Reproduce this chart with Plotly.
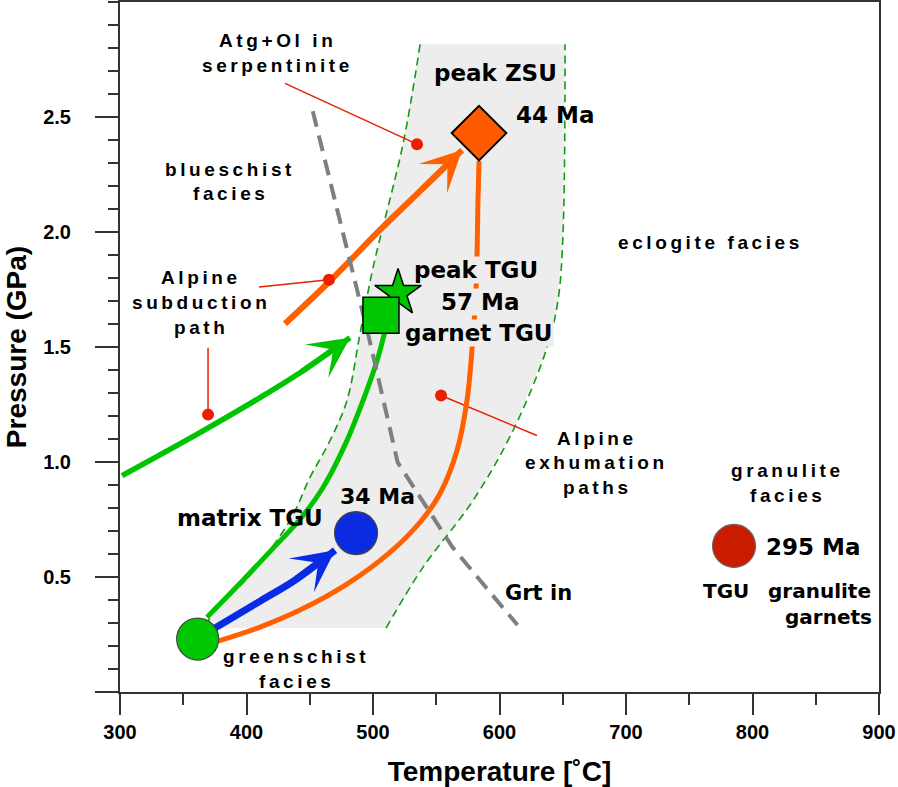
import plotly.graph_objects as go

# ---------------- data ----------------
x_tick_vals = [300, 400, 500, 600, 700, 800, 900]
x_tick_text = ["300", "400", "500", "600", "700", "800", "900"]
y_tick_vals = [0.0, 0.5, 1.0, 1.5, 2.0, 2.5]
y_tick_text = ["", "0.5", "1.0", "1.5", "2.0", "2.5"]

# grey P-T band (left boundary top->bottom, right boundary bottom->top)
band_left_T = [537.2, 523.7, 500.0, 489.7, 479.4, 466.0, 450.2, 434.4, 402.8, 373.5, 367.2]
band_left_P = [2.816, 2.382, 1.844, 1.557, 1.267, 1.093, 0.933, 0.746, 0.508, 0.343, 0.278]
band_right_T = [510.3, 539.5, 579.1, 610.7, 637.5, 646.2, 650.2, 651.8]
band_right_P = [0.278, 0.542, 0.833, 1.137, 1.497, 1.701, 1.991, 2.816]

# Grt-in reaction line
grt_T = [452.4, 497.4, 519.5, 562.9, 614.2]
grt_P = [2.525, 1.527, 0.998, 0.629, 0.291]

# orange exhumation path (greenschist -> peak ZSU)
exh_T = [377.5, 410.7, 442.3, 479.4, 513.4, 537.2, 553.0, 566.4, 574.3, 578.3, 581.4, 583.0, 583.8]
exh_P = [0.221, 0.282, 0.356, 0.469, 0.607, 0.738, 0.863, 1.050, 1.267, 1.492, 1.744, 2.134, 2.308]

# green TGU exhumation path
tgu_T = [368.8, 397.2, 420.2, 442.3, 460.5, 479.4, 492.1, 503.2, 509.5]
tgu_P = [0.325, 0.486, 0.620, 0.751, 0.889, 1.093, 1.267, 1.440, 1.571]

# blue arrow (greenschist -> matrix TGU)
blue_T = [375.1, 410.7, 438.3, 470.0]
blue_P = [0.278, 0.395, 0.486, 0.616]

# green subduction arrow
gsub_T = [301.6, 363.2, 410.7, 442.3, 481.8]
gsub_P = [0.941, 1.128, 1.280, 1.388, 1.540]

# orange subduction arrow
osub_T = [430.4, 466.0, 505.5, 537.2, 570.4]
osub_P = [1.601, 1.787, 2.009, 2.178, 2.356]

# point data
green_circle = (361.4, 0.230)
blue_circle = (486.6, 0.691)
red_circle = (785.4, 0.635)
zsu_diamond = (583.8, 2.430)
tgu_square = (506.3, 1.638)
tgu_star = (519.8, 1.735)

# red pointer lines (start -> dot)
ptr_T = [[430.4, 534.8], [409.9, 465.2], [369.6, 369.6], [629.6, 553.8]]
ptr_P = [[2.646, 2.382], [1.761, 1.792], [1.497, 1.206], [1.115, 1.289]]

# labels
spaced_labels = ["Atg+Ol in", "serpentinite", "blueschist", "facies",
                 "Alpine", "subduction", "path",
                 "Alpine", "exhumation", "paths",
                 "eclogite facies", "granulite", "facies",
                 "greenschist", "facies"]
bold_labels = ["peak ZSU", "44 Ma", "matrix TGU", "34 Ma", "Grt in", "295 Ma",
               "TGU", "granulite", "garnets"]
box_labels = ["peak TGU", "57 Ma", "garnet TGU"]

# ---------------- helpers ----------------
PX_T = 759 / 600.0
PX_P = 690 / 3.0


def T(px):
    return 300 + (px - 120) / PX_T


def P(py):
    return (692 - py) / PX_P


ORANGE = "#FF6000"
GREEN = "#00C400"
BLUE = "#0A2BE6"
RED = "#E82000"

fig = go.Figure()

# band fill
fig.add_trace(go.Scatter(x=band_left_T + band_right_T, y=band_left_P + band_right_P,
                         mode="lines", fill="toself", fillcolor="#EDEDED",
                         line=dict(width=0), hoverinfo="skip"))
for bx, by in [(band_left_T, band_left_P), (band_right_T, band_right_P)]:
    fig.add_trace(go.Scatter(x=bx, y=by, mode="lines",
                             line=dict(color="#139A13", width=1.6, dash="8px,5px", shape="spline"),
                             hoverinfo="skip"))

# pointer lines
for tx, ty in zip(ptr_T, ptr_P):
    fig.add_trace(go.Scatter(x=tx, y=ty, mode="lines", line=dict(color=RED, width=1.5),
                             hoverinfo="skip"))

# paths
fig.add_trace(go.Scatter(x=exh_T, y=exh_P, mode="lines",
                         line=dict(color=ORANGE, width=5, shape="spline"), hoverinfo="skip"))
fig.add_trace(go.Scatter(x=tgu_T, y=tgu_P, mode="lines",
                         line=dict(color=GREEN, width=5, shape="spline"), hoverinfo="skip"))
fig.add_trace(go.Scatter(x=blue_T, y=blue_P, mode="lines",
                         line=dict(color=BLUE, width=7, shape="spline"), hoverinfo="skip"))
fig.add_trace(go.Scatter(x=gsub_T, y=gsub_P, mode="lines",
                         line=dict(color=GREEN, width=5.5, shape="spline"), hoverinfo="skip"))
fig.add_trace(go.Scatter(x=osub_T, y=osub_P, mode="lines",
                         line=dict(color=ORANGE, width=6, shape="spline"), hoverinfo="skip"))

# Grt in
fig.add_trace(go.Scatter(x=grt_T, y=grt_P, mode="lines",
                         line=dict(color="#7F7F7F", width=4, dash="16px,9px"), hoverinfo="skip"))

# pointer dots
fig.add_trace(go.Scatter(x=[t[1] for t in ptr_T], y=[p[1] for p in ptr_P], mode="markers",
                         marker=dict(color=RED, size=12, line=dict(width=0)), hoverinfo="skip"))

# symbols
def sym(pt, symbol, size, color, lw=1, lc="#333333"):
    fig.add_trace(go.Scatter(x=[pt[0]], y=[pt[1]], mode="markers",
                             marker=dict(symbol=symbol, size=size, color=color,
                                         line=dict(color=lc, width=lw)),
                             hoverinfo="skip"))


sym(tgu_star, "star", 35, "#00C400", 1.5, "#000000")
sym(tgu_square, "square", 36, "#00C800", 1.5, "#000000")
sym(zsu_diamond, "diamond", 42, "#FF5A00", 2, "#000000")
sym(green_circle, "circle", 42, "#00C800", 1.2, "#444444")
sym(blue_circle, "circle", 43, "#0A2BE0", 1.2, "#444444")
sym(red_circle, "circle", 43, "#CC1C00", 1.2, "#666666")

# arrow heads
for xs, ys, col, w, sc in [(gsub_T, gsub_P, GREEN, 5.5, 6.8),
                           (osub_T, osub_P, ORANGE, 6, 6.8),
                           (blue_T, blue_P, BLUE, 7, 7.0)]:
    fig.add_annotation(x=xs[-1], y=ys[-1], ax=xs[-2], ay=ys[-2], xref="x", yref="y",
                       axref="x", ayref="y", text="", showarrow=True, arrowhead=3,
                       arrowwidth=w, arrowsize=sc / w, arrowcolor=col, standoff=0)

# spaced small labels
spaced_pos = [(277, 40), (277, 65), (230, 169), (230, 193),
              (201, 277), (201, 302), (201, 327),
              (597, 438), (596, 462), (597, 487),
              (710, 242), (787, 470), (787, 495),
              (296, 656), (296, 681)]
for txt, (px, py) in zip(spaced_labels, spaced_pos):
    fig.add_annotation(x=T(px), y=P(py), xref="x", yref="y", showarrow=False,
                       text='<b><span style="letter-spacing:3.6px">%s</span></b>' % txt,
                       font=dict(family="Liberation Sans, Arial", size=19, color="#000000",
                                 weight="bold"))

bold_pos = [(495, 73, 23), (555, 115, 23), (250, 518, 23), (377, 496, 22), (538, 593, 21),
            (813, 547, 23), (726, 591, 20), (819, 591, 20), (828, 617, 20)]
for txt, (px, py, fs) in zip(bold_labels, bold_pos):
    fig.add_annotation(x=T(px), y=P(py), xref="x", yref="y", showarrow=False, text=txt,
                       font=dict(family="DejaVu Sans", size=fs, color="#000000", weight="bold"))

box_pos = [(476, 270), (480, 302), (479, 333)]
for txt, (px, py) in zip(box_labels, box_pos):
    fig.add_annotation(x=T(px), y=P(py), xref="x", yref="y", showarrow=False, text=txt,
                       bgcolor="#EDEDED", borderpad=0,
                       font=dict(family="DejaVu Sans", size=23, color="#000000", weight="bold"))

axis_common = dict(showline=True, linewidth=2, linecolor="#333333", mirror=True,
                   showgrid=False, zeroline=False, ticks="outside", tickwidth=2,
                   tickcolor="#333333", automargin=False)

fig.update_layout(
    width=898, height=787, showlegend=False,
    plot_bgcolor="white", paper_bgcolor="white",
    margin=dict(l=120, r=19, t=2, b=95),
    xaxis=dict(range=[300, 900], tickmode="array", tickvals=x_tick_vals, ticktext=x_tick_text,
               ticklen=21,
               minor=dict(tickmode="linear", tick0=300, dtick=50, ticks="outside", ticklen=11,
                          tickwidth=2, tickcolor="#333333", showgrid=False),
               tickfont=dict(family="Liberation Sans, Arial", size=20, color="#000000",
                             weight="bold"),
               title=dict(text="Temperature [˚C]", standoff=21,
                          font=dict(family="Liberation Sans, Arial", size=28,
                                    color="#000000", weight="bold")),
               **axis_common),
    yaxis=dict(range=[0, 3.0], tickmode="array", tickvals=y_tick_vals, ticktext=y_tick_text,
               ticklen=23, ticklabelstandoff=20,
               minor=dict(tickmode="linear", tick0=0, dtick=0.1, ticks="outside", ticklen=10,
                          tickwidth=2, tickcolor="#333333", showgrid=False),
               tickfont=dict(family="Liberation Sans, Arial", size=20, color="#000000",
                             weight="bold"),
               title=dict(text="Pressure (GPa)", standoff=8,
                          font=dict(family="Liberation Sans, Arial", size=28,
                                    color="#000000", weight="bold")),
               **axis_common),
)

fig.write_html("out.html", config={"displayModeBar": False},
               post_script="document.body.style.margin='0';")
